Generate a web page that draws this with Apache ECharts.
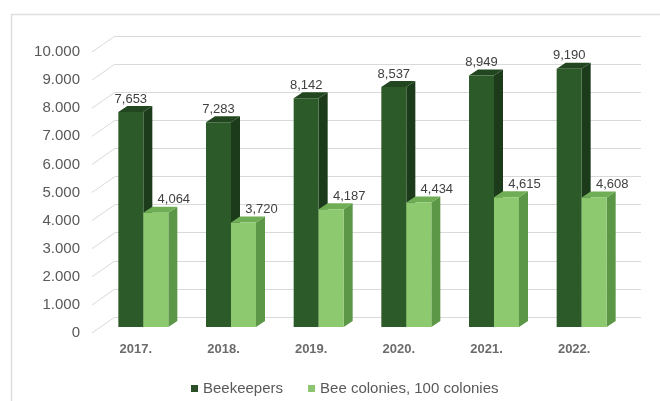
<!DOCTYPE html>
<html>
<head>
<meta charset="utf-8">
<script src="https://cdn.jsdelivr.net/npm/echarts@6/dist/echarts.min.js"></script>
<style>
html,body{margin:0;padding:0;background:#fff;}
#chart{width:660px;height:401px;}
</style>
</head>
<body>
<div id="chart"></div>
<script>
const categories = ['2017.', '2018.', '2019.', '2020.', '2021.', '2022.'];
const beekeepers = [7653, 7283, 8142, 8537, 8949, 9190];
const colonies = [4064, 3720, 4187, 4434, 4615, 4608];
const yTicks = [0, 1000, 2000, 3000, 4000, 5000, 6000, 7000, 8000, 9000, 10000];
const seriesNames = ['Beekeepers', 'Bee colonies, 100 colonies'];

const FONT = '"Liberation Sans", Arial, sans-serif';
const DX = -15.5, DY = 10;      // bar plane offset from back wall
const SDX = 9, SDY = -6;        // bar depth
const BW = 25;                  // bar front width

function fmtComma(v) { return String(v).replace(/\B(?=(\d{3})+(?!\d))/g, ','); }
function fmtDot(v) { return String(v).replace(/\B(?=(\d{3})+(?!\d))/g, '.'); }

function barRender(side, colors, labelDx) {
  return function (params, api) {
    const i = api.value(0), v = api.value(1);
    const base = api.coord([i, 0]);
    const top = api.coord([i, v]);
    const cx = base[0] + DX;
    const by = base[1] + DY;
    const ty = top[1] + DY;
    const x0 = side === 0 ? cx - BW : cx;
    const x1 = x0 + BW;
    return {
      type: 'group',
      children: [
        { type: 'polygon', shape: { points: [[x1, ty], [x1 + SDX, ty + SDY], [x1 + SDX, by + SDY], [x1, by]] }, style: { fill: colors.side } },
        { type: 'polygon', shape: { points: [[x0, ty], [x1, ty], [x1 + SDX, ty + SDY], [x0 + SDX, ty + SDY]] }, style: { fill: colors.top } },
        { type: 'rect', shape: { x: x0, y: ty, width: BW, height: by - ty }, style: { fill: colors.front } },
        { type: 'text', style: { x: x0 + BW / 2 + labelDx, y: ty - 13, text: fmtComma(v), fill: '#404040', font: '13px ' + FONT, align: 'center', verticalAlign: 'middle' } }
      ]
    };
  };
}

const chart = echarts.init(document.getElementById('chart'), null, { renderer: 'canvas' });
chart.setOption({
  animation: false,
  backgroundColor: '#ffffff',
  textStyle: { fontFamily: FONT },
  graphic: [
    { type: 'rect', shape: { x: 11.5, y: 14.5, width: 700, height: 420 }, style: { fill: 'none', stroke: '#dedede', lineWidth: 1.5 }, z: -10 }
  ],
  grid: [
    { left: 115, right: 19, top: 36, bottom: 84 },
    { left: 92, right: 42, top: 52, bottom: 68 }
  ],
  xAxis: [
    { type: 'category', gridIndex: 0, data: categories, axisLine: { show: false }, axisTick: { show: false }, axisLabel: { show: false } },
    { type: 'category', gridIndex: 1, data: categories, axisLine: { show: false }, axisTick: { show: false },
      axisLabel: { color: '#6b6b6b', fontSize: 13, fontWeight: 'bold', margin: 10, fontFamily: FONT } }
  ],
  yAxis: [
    { type: 'value', gridIndex: 0, min: 0, max: 10000, interval: 1000, axisLine: { show: false }, axisTick: { show: false }, axisLabel: { show: false },
      splitLine: { lineStyle: { color: '#d9d9d9', width: 1 } } },
    { type: 'value', gridIndex: 1, min: 0, max: 10000, interval: 1000, axisLine: { show: false }, axisTick: { show: false }, splitLine: { show: false },
      axisLabel: { color: '#595959', fontSize: 15, margin: 12, fontFamily: FONT, formatter: fmtDot } }
  ],
  legend: {
    data: seriesNames,
    left: 186, top: 376,
    icon: 'rect', itemWidth: 7, itemHeight: 7, itemGap: 25,
    textStyle: { color: '#595959', fontSize: 15, fontFamily: FONT }
  },
  series: [
    {
      type: 'custom', name: 'walls', xAxisIndex: 0, yAxisIndex: 0, clip: false, silent: true, z: 1,
      data: yTicks.map(v => [0, v]),
      renderItem: function (params, api) {
        const p = api.coord([0, api.value(1)]);
        const x0 = params.coordSys.x;
        return { type: 'line', shape: { x1: x0 - 23, y1: p[1] + 16, x2: x0, y2: p[1] }, style: { stroke: '#d9d9d9', lineWidth: 1 } };
      }
    },
    {
      type: 'custom', name: seriesNames[0], xAxisIndex: 0, yAxisIndex: 0, clip: false, z: 3,
      itemStyle: { color: '#2b4f27' },
      data: beekeepers.map((v, i) => [i, v]),
      renderItem: barRender(0, { front: '#2d5a29', side: '#1c3b1a', top: '#22461f' }, 0)
    },
    {
      type: 'custom', name: seriesNames[1], xAxisIndex: 0, yAxisIndex: 0, clip: false, z: 4,
      itemStyle: { color: '#8cc56f' },
      data: colonies.map((v, i) => [i, v]),
      renderItem: barRender(1, { front: '#8dc96e', side: '#5b9747', top: '#6fae55' }, 18)
    }
  ]
});
</script>
</body>
</html>
